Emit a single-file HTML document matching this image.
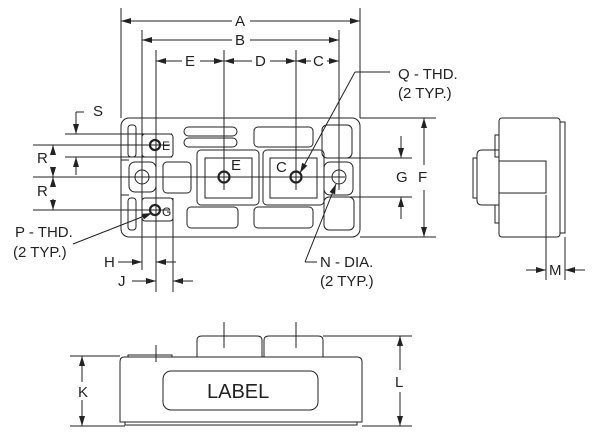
<!DOCTYPE html>
<html><head><meta charset="utf-8"><style>
html,body{margin:0;padding:0;background:#fff;}
svg{display:block;}
text{font-family:"Liberation Sans",sans-serif;font-size:15px;fill:#222;}
</style></head><body>
<svg width="600" height="444" viewBox="0 0 600 444" xmlns="http://www.w3.org/2000/svg">
<defs>
<marker id="ar" viewBox="0 0 10 6" refX="10" refY="3" markerWidth="10" markerHeight="6" orient="auto-start-reverse" markerUnits="userSpaceOnUse">
<path d="M0,0 L10,3 L0,6 z" fill="#222"/></marker>
</defs>
<g stroke="#222" stroke-width="1" fill="none">
<line x1="121" y1="8" x2="121" y2="118"/><line x1="360" y1="8" x2="360" y2="118"/>
<line x1="121" y1="21" x2="232" y2="21" marker-start="url(#ar)"/><line x1="250" y1="21" x2="360" y2="21" marker-end="url(#ar)"/>
<line x1="142" y1="30" x2="142" y2="270"/><line x1="339" y1="30" x2="339" y2="190"/>
<line x1="142" y1="40" x2="232" y2="40" marker-start="url(#ar)"/><line x1="250" y1="40" x2="339" y2="40" marker-end="url(#ar)"/>
<line x1="156" y1="50" x2="156" y2="292"/><line x1="224" y1="50" x2="224" y2="190"/><line x1="296" y1="50" x2="296" y2="190"/>
<line x1="156" y1="61" x2="182" y2="61" marker-start="url(#ar)"/><line x1="200" y1="61" x2="224" y2="61" marker-end="url(#ar)"/>
<line x1="224" y1="61" x2="252" y2="61" marker-start="url(#ar)"/><line x1="270" y1="61" x2="296" y2="61" marker-end="url(#ar)"/>
<line x1="296" y1="61" x2="311" y2="61" marker-start="url(#ar)"/><line x1="327" y1="61" x2="339" y2="61" marker-end="url(#ar)"/>
<line x1="173" y1="198" x2="173" y2="292"/>
<line x1="118" y1="262" x2="142" y2="262" marker-end="url(#ar)"/><line x1="176" y1="262" x2="156" y2="262" marker-end="url(#ar)"/>
<line x1="132" y1="281" x2="156" y2="281" marker-end="url(#ar)"/><line x1="193" y1="281" x2="173" y2="281" marker-end="url(#ar)"/>
<line x1="65" y1="134" x2="172" y2="134"/><line x1="65" y1="157" x2="172" y2="157"/>
<line x1="33" y1="145" x2="170" y2="145"/><line x1="33" y1="177" x2="345" y2="177"/><line x1="33" y1="210" x2="170" y2="210"/>
<line x1="76" y1="112" x2="76" y2="134" marker-end="url(#ar)"/><line x1="76" y1="112" x2="84" y2="112"/>
<line x1="76" y1="175" x2="76" y2="157" marker-end="url(#ar)"/>
<line x1="53" y1="155" x2="53" y2="145" marker-end="url(#ar)"/><line x1="53" y1="167" x2="53" y2="177" marker-end="url(#ar)"/>
<line x1="53" y1="187" x2="53" y2="177" marker-end="url(#ar)"/><line x1="53" y1="199" x2="53" y2="210" marker-end="url(#ar)"/>
<line x1="360" y1="118" x2="436" y2="118"/><line x1="360" y1="237" x2="436" y2="237"/>
<line x1="330" y1="158" x2="412" y2="158"/><line x1="330" y1="197" x2="412" y2="197"/>
<line x1="401" y1="136" x2="401" y2="158" marker-end="url(#ar)"/><line x1="401" y1="219" x2="401" y2="197" marker-end="url(#ar)"/>
<line x1="424" y1="165" x2="424" y2="118" marker-end="url(#ar)"/><line x1="424" y1="190" x2="424" y2="237" marker-end="url(#ar)"/>
<rect x="121" y="118" width="239" height="119" rx="8"/>
<rect x="128" y="125" width="8" height="32" rx="3"/><rect x="142" y="134" width="31" height="23" rx="3"/>
<rect x="128" y="198" width="8" height="32" rx="3"/><rect x="142" y="198" width="31" height="23" rx="3"/>
<rect x="129" y="162" width="27" height="30" rx="6"/>
<rect x="163" y="162" width="28" height="31" rx="4"/>
<rect x="184" y="127" width="53" height="9" rx="4.5"/><rect x="184" y="138" width="53" height="9" rx="4.5"/>
<rect x="254" y="127" width="59" height="20" rx="4"/>
<rect x="322" y="125" width="30" height="33" rx="5"/><rect x="324" y="162" width="29" height="33" rx="6"/><rect x="324" y="197" width="30" height="33" rx="5"/>
<rect x="197" y="150" width="62" height="55" rx="4"/><rect x="205" y="158" width="47" height="40"/>
<rect x="263" y="150" width="61" height="55" rx="4"/><rect x="270" y="158" width="47" height="40"/>
<rect x="187" y="207" width="51" height="21" rx="4"/><rect x="254" y="207" width="59" height="21" rx="4"/>
<line x1="121" y1="160" x2="129" y2="160"/><line x1="121" y1="195" x2="129" y2="195"/>
</g>
<g stroke="#222" fill="none">
<circle cx="155" cy="145" r="5" stroke-width="2.2"/><circle cx="155" cy="210" r="5" stroke-width="2.2"/>
<circle cx="224" cy="177" r="5.5" stroke-width="2.2"/><circle cx="296" cy="177" r="5.5" stroke-width="2.2"/>
<circle cx="142" cy="177" r="7" stroke-width="1"/><circle cx="339" cy="177" r="7" stroke-width="1"/>
</g>
<g stroke="#222" stroke-width="1" fill="none">
<line x1="355" y1="72" x2="390" y2="72"/><line x1="355" y1="72" x2="300" y2="173" marker-end="url(#ar)"/>
<line x1="73" y1="244" x2="152" y2="213" marker-end="url(#ar)"/>
<line x1="317" y1="262" x2="305" y2="262"/><line x1="305" y1="262" x2="336" y2="184" marker-end="url(#ar)"/>
<rect x="499" y="118" width="61" height="119" rx="3"/>
<rect x="560" y="122" width="5" height="111"/>
<rect x="495" y="135" width="4" height="22"/><rect x="495" y="205" width="4" height="18"/>
<path d="M499,150 L482,150 Q477,150 477,155 L477,200 Q477,205 482,205 L499,205"/>
<rect x="473" y="158" width="4" height="40"/>
<path d="M499,161 L546,161 L546,193 L499,193"/>
<line x1="546" y1="195" x2="546" y2="280"/><line x1="565" y1="237" x2="565" y2="280"/>
<line x1="526" y1="270" x2="546" y2="270" marker-end="url(#ar)"/><line x1="585" y1="270" x2="565" y2="270" marker-end="url(#ar)"/>
<path d="M128,357 L124,357 Q120,357 120,362 L120,422 L362,422 L362,362 Q362,357 357,357 Z"/>
<rect x="125" y="422" width="232" height="3"/>
<rect x="128" y="355" width="44" height="2"/>
<path d="M197,357 L197,340 Q197,336 202,336 L257,336 Q262,336 262,340 L262,357"/>
<path d="M264,357 L264,340 Q264,336 269,336 L318,336 Q323,336 323,340 L323,357"/>
<line x1="224" y1="322" x2="224" y2="348"/><line x1="296" y1="322" x2="296" y2="348"/><line x1="156" y1="345" x2="156" y2="362"/>
<rect x="163" y="371" width="155" height="39" rx="8"/>
<line x1="70" y1="356" x2="120" y2="356"/><line x1="70" y1="426" x2="125" y2="426"/>
<line x1="82" y1="382" x2="82" y2="356" marker-end="url(#ar)"/><line x1="82" y1="400" x2="82" y2="426" marker-end="url(#ar)"/>
<line x1="323" y1="336" x2="412" y2="336"/><line x1="362" y1="426" x2="412" y2="426"/>
<line x1="400" y1="370" x2="400" y2="336" marker-end="url(#ar)"/><line x1="400" y1="392" x2="400" y2="426" marker-end="url(#ar)"/>
</g>
<g>
<text x="235" y="26">A</text><text x="235" y="45">B</text>
<text x="185" y="66">E</text><text x="255" y="66">D</text><text x="313" y="66">C</text>
<text x="93" y="116">S</text>
<text x="37" y="163">R</text><text x="37" y="196">R</text>
<text x="162" y="150" style="font-size:12px">E</text><text x="162" y="216" style="font-size:12px">G</text>
<text x="231" y="170">E</text><text x="276" y="172">C</text>
<text x="396" y="182">G</text><text x="418" y="182">F</text>
<text x="398" y="79">Q - THD.</text><text x="398" y="98">(2 TYP.)</text>
<text x="15" y="237">P - THD.</text><text x="13" y="257">(2 TYP.)</text>
<text x="320" y="267">N - DIA.</text><text x="320" y="286">(2 TYP.)</text>
<text x="104" y="267">H</text><text x="118" y="286">J</text>
<text x="549" y="275">M</text>
<text x="78" y="397">K</text><text x="395" y="387">L</text>
<text x="207" y="398" style="font-size:20px">LABEL</text>
</g>
</svg>
</body></html>
